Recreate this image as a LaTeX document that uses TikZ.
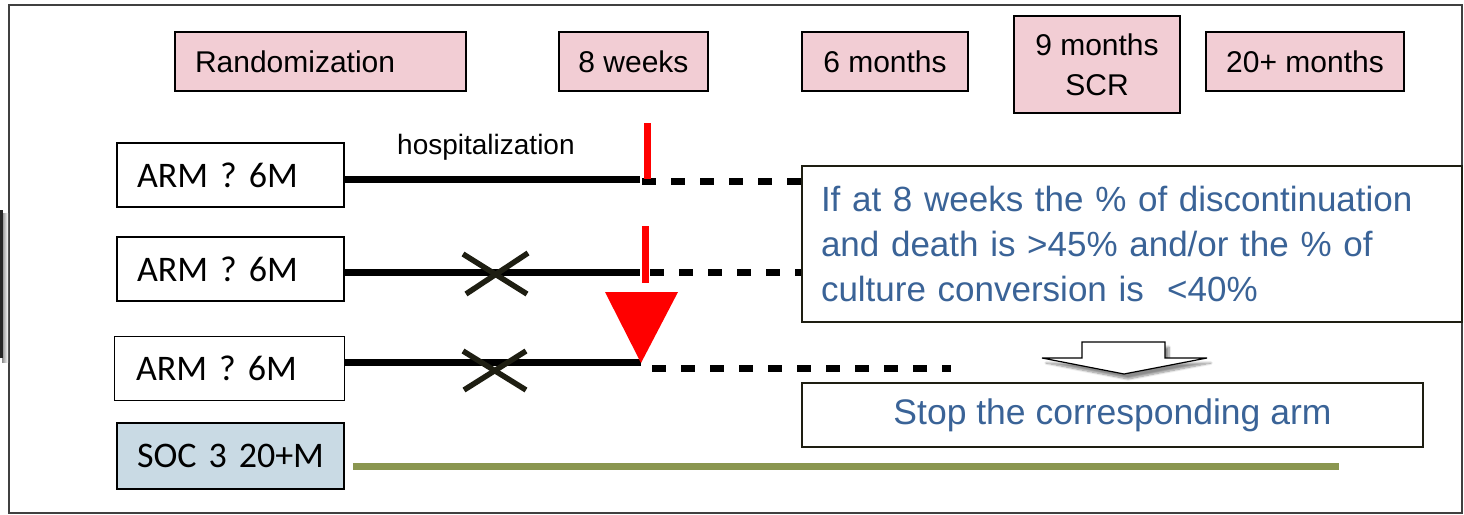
\documentclass[tikz,border=0pt]{standalone}
\usepackage{fontspec}
\setmainfont{Liberation Sans}
\newfontfamily\calfont{Carlito}
\usetikzlibrary{shadows.blur}
\definecolor{pinkf}{HTML}{F2CDD4}
\definecolor{socf}{HTML}{C9DAE4}
\definecolor{bluet}{HTML}{3A6397}
\definecolor{olive}{HTML}{8A9650}
\definecolor{xcol}{HTML}{1E1E12}
\definecolor{redm}{HTML}{FF0000}
\tikzset{
  pinkbox/.style={draw=black, line width=1.5pt, fill=pinkf, minimum height=59pt, inner sep=0pt, align=center, font=\fontsize{30}{40}\selectfont},
  armbox/.style={draw=black, line width=1.5pt, fill=white, minimum height=64pt, inner xsep=20pt, inner ysep=0pt, text width=187pt, align=left, font=\calfont\fontsize{36}{40}\selectfont},
  infobox/.style={draw=xcol, line width=1.5pt, fill=white, text=bluet, font=\fontsize{35}{45}\selectfont},
  armline/.style={line width=7pt, black},
  dashline/.style={line width=7pt, black, dash pattern=on 14pt off 15pt},
  redtick/.style={line width=7pt, redm},
  xmark/.style={line width=5.5pt, xcol},
}
\begin{document}
\begin{tikzpicture}[x=1pt,y=-1pt]
\useasboundingbox (0,0) rectangle (1464,514);
% outer frame and left fragment
\draw[line width=1.2pt, black!75] (9,5) rectangle (1462,513);
\shade[left color=black!45, right color=white] (2,213) rectangle (8,362);
\fill[black!85] (0,210) rectangle (2.5,358);

% timeline header boxes
\node[pinkbox, minimum width=291pt, inner xsep=20pt, text width=251pt, align=left] (rand) at (320.5,61.5) {Randomization};
\node[pinkbox, minimum width=149pt] (w8) at (633.5,61.5) {8 weeks};
\node[pinkbox, minimum width=166pt] (m6) at (885,61.5) {6 months};
\node[pinkbox, minimum width=166pt, minimum height=97pt] (m9) at (1097,64.5) {9 months\\SCR};
\node[pinkbox, minimum width=198pt] (m20) at (1305,61.5) {20+ months};

% arm boxes
\node[armbox] (arm1) at (230.5,175) {\mbox{ARM ? 6M}};
\node[armbox] (arm2) at (230.5,269) {\mbox{ARM ? 6M}};
\node[armbox, inner xsep=21.5pt] (arm3) at (229.5,368.5) {\mbox{ARM ? 6M}};
\node[armbox, fill=socf, minimum height=66pt] (soc) at (230.5,456) {\mbox{SOC 3 20+M}};

% label
\node[anchor=base west, inner sep=0pt, font=\fontsize{28}{30}\selectfont] (hosp) at (397,154) {hospitalization};

% coordinates
\coordinate (e1) at (640,179);
\coordinate (d1) at (642,181);
\coordinate (r1a) at (647,123);
\coordinate (r1b) at (647,179);
\coordinate (e2) at (640,272);
\coordinate (d2) at (650,272);
\coordinate (r2a) at (645,226);
\coordinate (r2b) at (645,283);
\coordinate (e3) at (641,362);
\coordinate (d3) at (652,368);
\coordinate (d3e) at (951,368);
\coordinate (se) at (1339,466);

% info boxes
\node[infobox, minimum width=660pt, minimum height=156pt, inner xsep=19pt, text width=622pt, align=left] (info) at (1132,244)
  {If at 8 weeks the \% of discontinuation\\and death is >45\% and/or the \% of\\culture conversion is \ <40\%};
\node[infobox, minimum width=621pt, minimum height=64pt, inner sep=0pt, font=\fontsize{35.5}{45}\selectfont] (stop) at (1112.5,415) {Stop the corresponding arm};

% arm 1
\draw[armline] (arm1.east |- e1) -- (e1);
\draw[dashline] (d1) -- (d1 -| info.west);
\draw[redtick] (r1a) -- (r1b);
% arm 2
\draw[armline] (arm2.east |- e2) -- (e2);
\draw[dashline] (d2) -- (d2 -| info.west);
\draw[redtick] (r2a) -- (r2b);
\draw[xmark] (463,254) -- (527,294);
\draw[xmark] (528,253) -- (466,294);
% arm 3
\draw[armline] (arm3.east |- e3) -- (e3);
\draw[dashline] (d3) -- (d3e);
\fill[redm] (605,292) -- (678,292) -- (641,363) -- cycle;
\draw[xmark] (463,351) -- (526,390);
\draw[xmark] (526,351) -- (464,390);
% SOC
\draw[line width=7pt, olive, shorten <=8pt] (soc.east |- se) -- (se);

% block arrow
\draw[fill=white, line width=1.2pt, blur shadow={shadow xshift=4pt, shadow yshift=-5pt, shadow blur steps=8, shadow opacity=45}]
  (1082,342) -- (1165,342) -- (1165,358) -- (1207,358) -- (1124,374) -- (1042,358) -- (1082,358) -- cycle;
\end{tikzpicture}
\end{document}
